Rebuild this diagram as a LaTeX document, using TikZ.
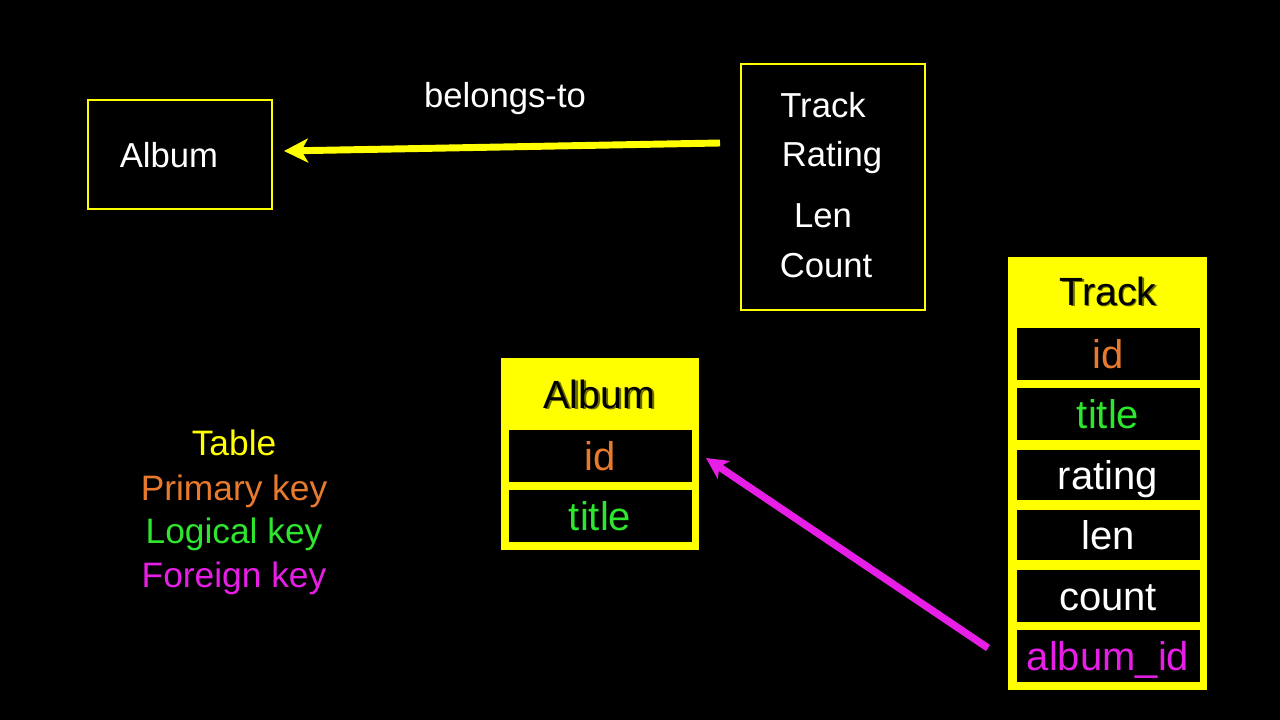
\documentclass[tikz,border=0pt]{standalone}
\usepackage{fontspec}
\setmainfont{Liberation Sans}
\usetikzlibrary{arrows.meta,calc}
\definecolor{ylw}{RGB}{255,255,0}
\definecolor{org}{RGB}{232,122,46}
\definecolor{grn}{RGB}{46,230,46}
\definecolor{mag}{RGB}{230,30,230}
\definecolor{shd}{RGB}{110,110,0}
\tikzset{
  txt/.style={inner sep=0pt,anchor=base,text=white,font=\fontsize{26}{30}\selectfont},
  lgd/.style={inner sep=0pt,anchor=base,font=\fontsize{26.5}{30}\selectfont},
  boxy/.style={draw=ylw,line width=1.9pt,fill=black},
  tbl/.style={fill=ylw,draw=none},
  cell/.style={fill=black,draw=none,inner sep=0pt,minimum width=183*0.75pt,
    text height=21pt,text depth=0pt,font=\fontsize{30}{34}\selectfont},
  hdr/.style={inner sep=0pt,anchor=base,text=black,font=\fontsize{29.5}{33}\selectfont},
  hdrs/.style={inner sep=0pt,anchor=base,text=shd,font=\fontsize{29.5}{33}\selectfont},
}
\begin{document}
\begin{tikzpicture}[x=0.75pt,y=-0.75pt]
\fill[black] (0,0) rectangle (1280,720);
\useasboundingbox (0,0) rectangle (1280,720);
% top conceptual boxes
\node[boxy,minimum width=184*0.75pt,minimum height=109*0.75pt] (albumbox) at (180,154.5) {};
\node[txt] (albumtxt) at (169,168) {Album};
\node[boxy,minimum width=184*0.75pt,minimum height=246*0.75pt] (trackbox) at (833,187) {};
\node[txt] (t1) at (823,118) {Track};
\node[txt] (t2) at (832,167) {Rating};
\node[txt] (t3) at (823,228) {Len};
\node[txt] (t4) at (826,277) {Count};
\node[txt] (belongs) at (505,108) {belongs-to};
\coordinate (ya) at (720,143);
\coordinate (yb) at (284,151);
\draw[ylw,line width=5.2pt,-{Stealth[length=18pt,width=18pt,inset=5pt]}] (ya) -- (yb);
% legend
\node[lgd,text=ylw] (l1) at (234,455) {Table};
\node[lgd,text=org] (l2) at (234,500) {Primary key};
\node[lgd,text=grn] (l3) at (234,543) {Logical key};
\node[lgd,text=mag] (l4) at (234,587) {Foreign key};
% Album table
\node[tbl,minimum width=198*0.75pt,minimum height=192*0.75pt] (atbl) at (600,454) {};
\node[hdrs] at (601.5,409.5) {Album};
\node[hdr] (ahdr) at (599.5,408) {Album};
\node[cell,minimum height=52*0.75pt,text=org] (aid) at (600,456) {id};
\node[cell,minimum height=52*0.75pt,text=grn] (atitle) at (600,516) {title};
% Track table
\node[tbl,minimum width=199*0.75pt,minimum height=433*0.75pt] (ttbl) at (1107.5,473.5) {};
\node[hdrs] at (1109.5,306.5) {Track};
\node[hdr] (thdr) at (1108,305) {Track};
\node[cell,minimum height=52*0.75pt,text=org] (tid) at (1108,354) {id};
\node[cell,minimum height=52*0.75pt,text=grn] (ttitle) at (1108,414) {title};
\node[cell,minimum height=50*0.75pt,text=white] (trating) at (1108,475) {rating};
\node[cell,minimum height=50*0.75pt,text=white] (tlen) at (1108,535) {len};
\node[cell,minimum height=52*0.75pt,text=white] (tcount) at (1108,596) {count};
\node[cell,minimum height=52*0.75pt,text=mag] (talbum) at (1108,656) {album\_id};
% foreign key arrow
\coordinate (ma) at (988,648);
\coordinate (mb) at (706,458);
\draw[mag,line width=5.5pt,-{Stealth[length=16pt,width=16pt,inset=4pt]}] (ma) -- (mb);
\end{tikzpicture}
\end{document}
